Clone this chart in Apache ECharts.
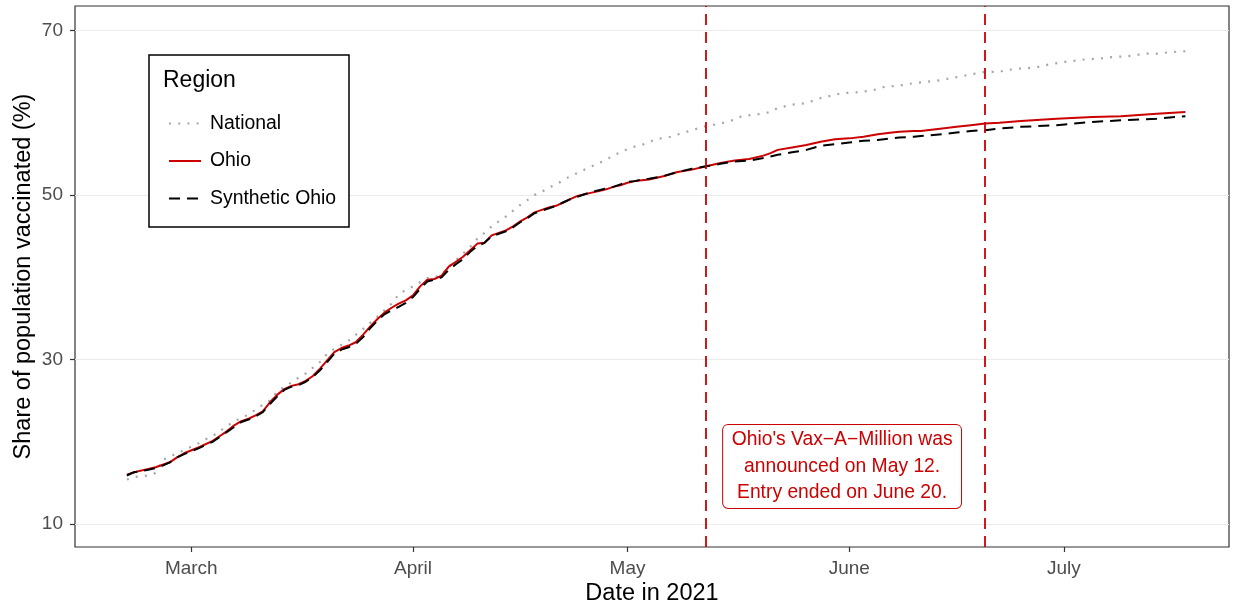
<!DOCTYPE html>
<html><head><meta charset="utf-8">
<script src="https://cdn.jsdelivr.net/npm/echarts@6/dist/echarts.min.js"></script>
<style>html,body{margin:0;padding:0;background:#fff}#chart{width:1239px;height:607px}</style>
</head><body><div id="chart"></div>
<script>
// ---- data ----
const ohioDates = [
'2021-02-20','2021-02-21','2021-02-23','2021-02-24','2021-02-25','2021-02-26','2021-02-27','2021-02-28',
'2021-03-02','2021-03-04','2021-03-05','2021-03-06','2021-03-07','2021-03-08','2021-03-09','2021-03-10','2021-03-11','2021-03-12',
'2021-03-13','2021-03-14','2021-03-15','2021-03-16','2021-03-17','2021-03-18','2021-03-19','2021-03-20','2021-03-21','2021-03-22',
'2021-03-23','2021-03-24','2021-03-25','2021-03-26','2021-03-27','2021-03-28','2021-03-29','2021-03-30','2021-03-31',
'2021-04-01','2021-04-02','2021-04-03','2021-04-04','2021-04-05','2021-04-06','2021-04-07','2021-04-08','2021-04-09','2021-04-10',
'2021-04-11','2021-04-12','2021-04-13','2021-04-14','2021-04-15','2021-04-16','2021-04-17','2021-04-18','2021-04-19','2021-04-20',
'2021-04-21','2021-04-22','2021-04-23','2021-04-24','2021-04-25','2021-04-26','2021-04-27','2021-04-28','2021-04-29','2021-04-30',
'2021-05-01','2021-05-02','2021-05-03','2021-05-04','2021-05-06','2021-05-08','2021-05-10','2021-05-12','2021-05-14','2021-05-16',
'2021-05-18','2021-05-20','2021-05-21','2021-05-22','2021-05-24','2021-05-26','2021-05-28','2021-05-30',
'2021-06-01','2021-06-03','2021-06-05','2021-06-07','2021-06-08','2021-06-10','2021-06-11','2021-06-14','2021-06-16','2021-06-18',
'2021-06-20','2021-06-22','2021-06-25','2021-06-30',
'2021-07-05','2021-07-09','2021-07-14','2021-07-18'
];
const ohioValues = [
16.0,16.3,16.7,16.9,17.2,17.5,18.1,18.6,
19.3,20.1,20.7,21.3,22.0,22.5,22.8,23.2,23.7,24.8,
25.7,26.4,26.8,27.0,27.4,28.0,28.9,29.9,30.9,31.4,
31.7,32.1,33.0,34.0,34.9,35.7,36.3,36.8,37.2,
37.8,38.9,39.7,39.8,40.2,41.3,41.9,42.5,43.3,44.1,
44.2,45.1,45.4,45.7,46.2,46.8,47.3,47.9,48.2,48.5,
48.7,49.1,49.5,49.9,50.1,50.3,50.5,50.7,51.0,51.2,
51.5,51.7,51.8,51.9,52.3,52.8,53.1,53.5,53.9,54.2,
54.4,54.8,55.1,55.5,55.8,56.1,56.5,56.8,
56.9,57.1,57.4,57.6,57.7,57.8,57.8,58.1,58.3,58.5,
58.7,58.8,59.0,59.3,
59.5,59.6,59.9,60.1
];
const synthDates = ohioDates;
const synthValues = [
15.9,16.3,16.6,16.8,17.1,17.5,18.1,18.5,
19.2,20.0,20.6,21.2,21.8,22.4,22.7,23.1,23.6,24.6,
25.5,26.3,26.7,26.9,27.3,27.9,28.7,29.7,30.7,31.2,
31.5,31.9,32.7,33.8,34.7,35.5,36.0,36.4,36.9,
37.6,38.6,39.5,39.7,40.0,40.9,41.6,42.2,43.1,43.8,
44.2,45.0,45.3,45.6,46.1,46.7,47.2,47.8,48.1,48.4,
48.7,49.1,49.5,49.8,50.1,50.4,50.6,50.8,51.0,51.3,
51.6,51.7,51.9,52.0,52.3,52.8,53.2,53.5,53.8,54.1,
54.2,54.5,54.7,54.9,55.2,55.5,56.0,56.2,
56.4,56.6,56.7,56.9,57.0,57.1,57.2,57.4,57.6,57.8,
57.9,58.1,58.3,58.5,
58.9,59.1,59.3,59.6
];
const nationalDates = [
'2021-02-20','2021-02-21','2021-02-23','2021-02-24','2021-02-25','2021-02-26','2021-02-27',
'2021-03-01','2021-03-02','2021-03-03','2021-03-04','2021-03-05','2021-03-06','2021-03-07','2021-03-08','2021-03-09','2021-03-10',
'2021-03-11','2021-03-12','2021-03-13','2021-03-14','2021-03-15','2021-03-16','2021-03-17','2021-03-18','2021-03-19','2021-03-20',
'2021-03-21','2021-03-22','2021-03-23','2021-03-24','2021-03-25','2021-03-27','2021-03-28','2021-03-29','2021-03-30','2021-03-31',
'2021-04-01','2021-04-02','2021-04-03','2021-04-04','2021-04-05','2021-04-06','2021-04-07','2021-04-08','2021-04-09','2021-04-10',
'2021-04-11','2021-04-12','2021-04-13','2021-04-14','2021-04-15','2021-04-16','2021-04-17','2021-04-18','2021-04-19','2021-04-20',
'2021-04-21','2021-04-22','2021-04-23','2021-04-24','2021-04-25','2021-04-26','2021-04-27','2021-04-28','2021-04-29','2021-04-30',
'2021-05-01','2021-05-02','2021-05-03','2021-05-05','2021-05-07','2021-05-10','2021-05-12','2021-05-14','2021-05-16','2021-05-17',
'2021-05-19','2021-05-21','2021-05-22','2021-05-24','2021-05-26','2021-05-27','2021-05-28','2021-05-30','2021-05-31',
'2021-06-02','2021-06-04','2021-06-05','2021-06-06','2021-06-08','2021-06-09','2021-06-11','2021-06-13','2021-06-14','2021-06-15',
'2021-06-17','2021-06-18','2021-06-19','2021-06-20','2021-06-22','2021-06-23','2021-06-25','2021-06-27','2021-06-28','2021-06-29',
'2021-07-01','2021-07-02','2021-07-04','2021-07-06','2021-07-08','2021-07-10','2021-07-11','2021-07-12','2021-07-14','2021-07-15',
'2021-07-16','2021-07-18'
];
const nationalValues = [
15.4,15.7,15.9,16.2,17.8,18.2,18.6,
19.4,19.8,20.3,20.7,21.3,21.9,22.5,22.9,23.3,23.9,
24.5,25.0,26.1,26.7,27.2,27.8,28.3,29.0,29.7,30.7,
31.3,31.8,32.3,33.0,33.7,35.2,36.0,36.8,37.9,38.5,
38.9,39.4,39.9,40.0,40.3,41.3,42.1,42.9,43.7,44.7,
45.4,46.2,46.8,47.4,48.1,48.8,49.4,50.0,50.4,50.9,
51.3,51.8,52.3,52.7,53.1,53.5,53.9,54.3,54.8,55.2,
55.6,55.9,56.1,56.8,57.1,57.9,58.4,58.7,59.2,59.6,
59.8,60.1,60.6,61.0,61.2,61.5,61.8,62.2,62.4,
62.5,62.7,62.9,63.2,63.3,63.5,63.7,63.9,64.0,64.2,
64.5,64.7,64.8,65.0,65.0,65.2,65.4,65.5,65.7,65.9,
66.2,66.3,66.5,66.6,66.8,66.9,67.0,67.2,67.2,67.3,
67.4,67.5
];
const seriesNames = ['National','Ohio','Synthetic Ohio'];
const monthTicks = ['2021-03-01','2021-04-01','2021-05-01','2021-06-01','2021-07-01'];
const monthLabels = ['March','April','May','June','July'];
const yTicks = [10,30,50,70];
const eventDates = ['2021-05-12','2021-06-20'];
const annotationDate = '2021-05-31';
const annotationValue = 17;
const annotationText = "Ohio's Vax\u2212A\u2212Million was\nannounced on May 12.\nEntry ended on June 20.";

// ---- chart ----
const DAY = 86400000;
const t = s => +echarts.number.parseDate(s);
const pairs = (ds, vs) => ds.map((d, i) => [t(d), vs[i]]);
const tickMs = monthTicks.map(t);
const FONT = 'Liberation Sans, Arial, Helvetica, sans-serif';
const RED = '#CC0000';

const chart = echarts.init(document.getElementById('chart'), null, {renderer: 'canvas'});
chart.setOption({
  animation: false,
  backgroundColor: '#fff',
  textStyle: {fontFamily: FONT},
  grid: {left: 75, right: 10, top: 6, bottom: 60, show: true, borderColor: '#333', borderWidth: 1.2,
         backgroundColor: '#fff', containLabel: false, outerBoundsMode: 'none'},
  xAxis: {
    type: 'value',
    min: t(ohioDates[0]) - 7.26 * DAY,
    max: t(ohioDates[ohioDates.length - 1]) + 6.1 * DAY,
    axisLine: {show: false},
    splitLine: {show: false},
    axisTick: {show: true, customValues: tickMs, length: 5, lineStyle: {color: '#333', width: 1.2}},
    axisLabel: {
      customValues: tickMs, fontSize: 19, color: '#4d4d4d', margin: 12, fontFamily: FONT,
      formatter: function (v) {
        let best = 0;
        tickMs.forEach((m, i) => { if (Math.abs(m - v) < Math.abs(tickMs[best] - v)) best = i; });
        return monthLabels[best];
      }
    },
    name: 'Date in 2021', nameLocation: 'middle', nameGap: 35, nameMoveOverlap: false,
    nameTextStyle: {fontSize: 23.5, color: '#000', fontFamily: FONT}
  },
  yAxis: {
    type: 'value', min: 7.2, max: 73.0,
    axisLine: {show: false},
    splitLine: {show: false},
    axisTick: {show: true, customValues: yTicks, length: 5, lineStyle: {color: '#333', width: 1.2}},
    axisLabel: {customValues: yTicks, fontSize: 19, color: '#4d4d4d', margin: 12, fontFamily: FONT},
    name: 'Share of population vaccinated (%)', nameLocation: 'middle', nameGap: 39, nameMoveOverlap: false,
    nameTextStyle: {fontSize: 23.5, color: '#000', fontFamily: FONT}
  },
  legend: {
    orient: 'vertical', left: 163, top: 109, itemWidth: 32, itemHeight: 16, itemGap: 18.5,
    data: seriesNames,
    itemStyle: {opacity: 0},
    textStyle: {fontSize: 19.4, color: '#000', fontFamily: FONT, lineHeight: 16, padding: [0, 0, 0, 4]},
    z: 10
  },
  graphic: [
    {type: 'rect', z: 8, shape: {x: 149, y: 55, width: 200, height: 172},
     style: {fill: '#fff', stroke: '#000', lineWidth: 1.5}},
    {type: 'text', z: 11, left: 163, top: 69,
     style: {text: 'Region', font: '23px ' + FONT, fill: '#000'}}
  ],
  series: [
    {
      name: seriesNames[0], type: 'line', symbol: 'none', data: pairs(nationalDates, nationalValues),
      lineStyle: {color: '#a6a6a6', width: 2.2, type: [2, 7.2]}, itemStyle: {color: '#a6a6a6'},
      markLine: {
        silent: true, symbol: 'none', z: 1, label: {show: false},
        lineStyle: {color: '#ebebeb', width: 1.2, type: 'solid'},
        data: yTicks.map(v => ({yAxis: v}))
      }
    },
    {
      name: seriesNames[1], type: 'line', symbol: 'none', data: pairs(ohioDates, ohioValues),
      lineStyle: {color: RED, width: 2}, itemStyle: {color: RED},
      markLine: {
        silent: true, symbol: 'none', label: {show: false},
        lineStyle: {color: RED, width: 1.8, type: [11, 7]},
        data: eventDates.map(d => ({xAxis: t(d)}))
      },
      markPoint: {
        silent: true, symbol: 'rect', symbolSize: 1, itemStyle: {color: 'rgba(0,0,0,0)'},
        label: {
          show: true, position: 'inside', formatter: annotationText, color: RED,
          fontSize: 19.3, lineHeight: 26.7, fontFamily: FONT, align: 'center',
          backgroundColor: '#fff', borderColor: RED, borderWidth: 1, borderRadius: 5,
          padding: [1.5, 8.5, 1.5, 8.5]
        },
        data: [{coord: [t(annotationDate), annotationValue]}]
      }
    },
    {
      name: seriesNames[2], type: 'line', symbol: 'none', data: pairs(synthDates, synthValues),
      lineStyle: {color: '#000', width: 2, type: [11, 7]}, itemStyle: {color: '#000'}
    }
  ]
});
</script></body></html>
